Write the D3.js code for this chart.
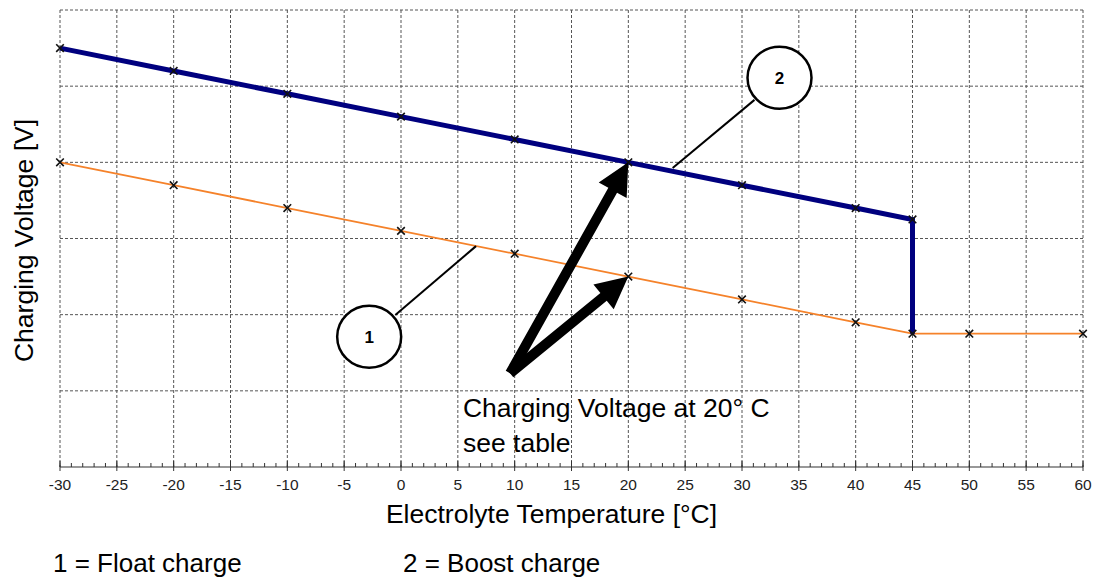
<!DOCTYPE html>
<html>
<head>
<meta charset="utf-8">
<script src="https://cdn.jsdelivr.net/npm/d3@7"></script>
<style>
  body { margin: 0; background: #fff; }
  text { font-family: "Liberation Sans", Arial, sans-serif; fill: #000; }
</style>
</head>
<body>
<div id="chart"></div>
<script>
var width = 1097;
var height = 579;
var margin = { top: 10, right: 14, bottom: 112, left: 60 };

// data: temperature in °C, voltage in V per cell
var boostTemps = [-30, -20, -10, 0, 10, 20, 30, 40, 45];
var boostVolts = [2.55, 2.52, 2.49, 2.46, 2.43, 2.40, 2.37, 2.34, 2.325];
var floatTemps = [-30, -20, -10, 0, 10, 20, 30, 40, 45, 50, 60];
var floatVolts = [2.40, 2.37, 2.34, 2.31, 2.28, 2.25, 2.22, 2.19, 2.175, 2.175, 2.175];
var xTicks = d3.range(-30, 61, 5);
var yGrid = [2.0, 2.1, 2.2, 2.3, 2.4, 2.5, 2.6];

// callouts (positions in data units)
var callouts = [
    { label: "1", cx: -2.8, cy: 2.171, x1: -0.5, y1: 2.1996, x2: 6.6, y2: 2.290 },
    { label: "2", cx: 33.3, cy: 2.511, x1: 31.1, y1: 2.482, x2: 23.9, y2: 2.3925 }
];
var arrowTail = { t: 9.6, v: 2.123 };
var arrowTips = [{ t: 20, v: 2.40 }, { t: 20, v: 2.25 }];

var innerW = width - margin.left - margin.right;
var innerH = height - margin.top - margin.bottom;

var x = d3.scaleLinear().domain([-30, 60]).range([0, innerW]);
var y = d3.scaleLinear().domain([2.0, 2.6]).range([innerH, 0]);

var svg = d3.select("#chart")
    .append("svg")
    .attr("width", width)
    .attr("height", height)
    .append("g")
    .attr("transform", "translate(" + margin.left + "," + margin.top + ")");

// grid
svg.selectAll(".hgrid")
    .data(yGrid.slice(1))
    .enter()
    .append("line")
    .attr("x1", 0)
    .attr("x2", innerW)
    .attr("y1", (d) => y(d))
    .attr("y2", (d) => y(d))
    .attr("stroke", "#555")
    .attr("stroke-width", 1)
    .attr("stroke-dasharray", "3,2");

svg.selectAll(".vgrid")
    .data(xTicks)
    .enter()
    .append("line")
    .attr("x1", (d) => x(d))
    .attr("x2", (d) => x(d))
    .attr("y1", 0)
    .attr("y2", innerH)
    .attr("stroke", "#555")
    .attr("stroke-width", 1)
    .attr("stroke-dasharray", "3,2");

// x axis with minor ticks
var xAxis = svg.append("g")
    .attr("transform", "translate(0," + innerH + ")");
xAxis.append("line")
    .attr("x1", 0).attr("x2", innerW)
    .attr("stroke", "#333").attr("stroke-width", 1.2);
xAxis.selectAll(".minor")
    .data(d3.range(-30, 61, 1))
    .enter()
    .append("line")
    .attr("x1", (d) => x(d)).attr("x2", (d) => x(d))
    .attr("y1", -4).attr("y2", 0)
    .attr("stroke", "#333");
xAxis.selectAll(".major")
    .data(xTicks)
    .enter()
    .append("line")
    .attr("x1", (d) => x(d)).attr("x2", (d) => x(d))
    .attr("y1", -6).attr("y2", 4)
    .attr("stroke", "#333");
xAxis.selectAll(".tlabel")
    .data(xTicks)
    .enter()
    .append("text")
    .attr("x", (d) => x(d))
    .attr("y", 23)
    .attr("text-anchor", "middle")
    .style("font-size", "15.5px")
    .style("fill", "#222")
    .text((d) => d);

// lines
var line = d3.line().x((d) => x(d[0])).y((d) => y(d[1]));
var floatPts = floatTemps.map((t, i) => [t, floatVolts[i]]);
var boostPts = boostTemps.map((t, i) => [t, boostVolts[i]]);
var boostPath = boostPts.concat([[45, floatVolts[floatTemps.indexOf(45)]]]);

svg.append("path")
    .attr("d", line(floatPts))
    .attr("fill", "none")
    .attr("stroke", "#f5822a")
    .attr("stroke-width", 1.8);

svg.append("path")
    .attr("d", line(boostPath))
    .attr("fill", "none")
    .attr("stroke", "#00007f")
    .attr("stroke-width", 5);

// x markers
var allPts = floatPts.concat(boostPts);
svg.selectAll(".marker")
    .data(allPts)
    .enter()
    .append("path")
    .attr("d", (d) => {
        var px = x(d[0]), py = y(d[1]), s = 3.8;
        return "M" + (px - s) + "," + (py - s) + "L" + (px + s) + "," + (py + s) +
            "M" + (px - s) + "," + (py + s) + "L" + (px + s) + "," + (py - s);
    })
    .attr("stroke", "#111")
    .attr("stroke-width", 1.6);

// callouts
callouts.forEach((c) => {
    svg.append("line")
        .attr("x1", x(c.x1)).attr("y1", y(c.y1))
        .attr("x2", x(c.x2)).attr("y2", y(c.y2))
        .attr("stroke", "#000").attr("stroke-width", 2);
    svg.append("ellipse")
        .attr("cx", x(c.cx)).attr("cy", y(c.cy))
        .attr("rx", 32).attr("ry", 31)
        .attr("fill", "#fff")
        .attr("stroke", "#000").attr("stroke-width", 2.5);
    svg.append("text")
        .attr("x", x(c.cx)).attr("y", y(c.cy) + 6)
        .attr("text-anchor", "middle")
        .style("font-size", "17px")
        .style("font-weight", "bold")
        .text(c.label);
});

// arrows
arrowTips.forEach((tip) => {
    var x0 = x(arrowTail.t), y0 = y(arrowTail.v);
    var x1 = x(tip.t), y1 = y(tip.v);
    var dx = x1 - x0, dy = y1 - y0, len = Math.sqrt(dx * dx + dy * dy);
    var ux = dx / len, uy = dy / len, nx = -uy, ny = ux;
    var headL = 32, headW = 16, shaftW = 5;
    var bx = x1 - ux * headL, by = y1 - uy * headL;
    var pts = [
        [x0 + nx * shaftW, y0 + ny * shaftW],
        [bx + nx * shaftW, by + ny * shaftW],
        [bx + nx * headW, by + ny * headW],
        [x1, y1],
        [bx - nx * headW, by - ny * headW],
        [bx - nx * shaftW, by - ny * shaftW],
        [x0 - nx * shaftW, y0 - ny * shaftW]
    ];
    svg.append("path")
        .attr("d", "M" + pts.map((p) => p.join(",")).join("L") + "Z")
        .attr("fill", "#000");
});

svg.append("text")
    .attr("x", x(5.45))
    .attr("y", y(2.0656))
    .style("font-size", "26.5px")
    .text("Charging Voltage at 20° C");
svg.append("text")
    .attr("x", x(5.45))
    .attr("y", y(2.0197))
    .style("font-size", "26.5px")
    .text("see table");

// axis titles
svg.append("text")
    .attr("x", innerW / 2 - 20)
    .attr("y", innerH + 56)
    .attr("text-anchor", "middle")
    .style("font-size", "26.5px")
    .text("Electrolyte Temperature [°C]");

svg.append("text")
    .attr("transform", "translate(" + (-27) + "," + (innerH / 2 + 2) + ") rotate(-90)")
    .attr("text-anchor", "middle")
    .style("font-size", "26.5px")
    .text("Charging Voltage [V]");

// legend
svg.append("text")
    .attr("x", -7).attr("y", innerH + 105)
    .style("font-size", "26px")
    .text("1 = Float charge");
svg.append("text")
    .attr("x", 343).attr("y", innerH + 105)
    .style("font-size", "26px")
    .text("2 = Boost charge");
</script>
</body>
</html>
